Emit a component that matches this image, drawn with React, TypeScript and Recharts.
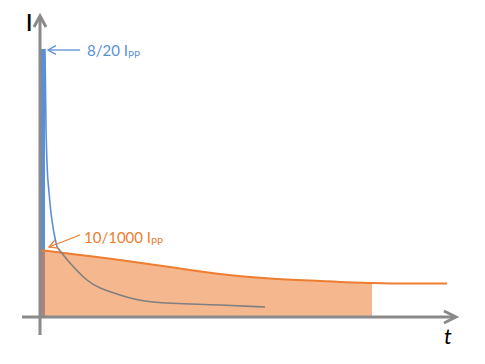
import { ComposedChart, XAxis, YAxis, Area, Line, ReferenceLine } from "recharts";

// time axis (arbitrary units, origin at the I axis) and current values
const orangeT = [0, 40, 80, 130, 180, 230, 280, 332, 370, 407];
const orangeI = [67, 62, 57, 50, 43, 38.5, 36, 34, 33.5, 33.5];
const fillEndT = 332;

const spikeT = [0, 5];
const spikeI = [268, 268];

const blueT = [5, 6, 7, 9, 11, 14, 17];
const blueI = [268, 190, 154, 125, 104, 84, 70];

const grayT = [17, 30, 47, 80, 113, 180, 225];
const grayI = [70, 54, 37, 22, 15, 12, 10];

const toRows = (ts: number[], is: number[]) => ts.map((t, k) => ({ t, I: is[k] }));

const orangeData = toRows(orangeT, orangeI);
const orangeFill = orangeData.filter((d) => d.t <= fillEndT);
const spikeData = toRows(spikeT, spikeI);
const blueData = toRows(blueT, blueI);
const grayData = toRows(grayT, grayI);

const BLUE = "#5b8fd6";
const ORANGE = "#ed7d31";
const AXIS = "#8a8a8a";
const FONT = "Lato, 'Open Sans', sans-serif";

function axisShape(dir: "up" | "right") {
  return (p: any) => {
    const { x1, y1, x2, y2 } = p;
    const head =
      dir === "up"
        ? `M${x2 - 6},${y2 + 11} L${x2},${y2} L${x2 + 6},${y2 + 11}`
        : `M${x2 - 12},${y2 - 6} L${x2},${y2} L${x2 - 12},${y2 + 6}`;
    return (
      <g>
        <line x1={x1} y1={y1} x2={x2} y2={y2} stroke={AXIS} strokeWidth={3} />
        <path d={head} fill="none" stroke={AXIS} strokeWidth={3} />
        {dir === "up" ? (
          <text x={x2 - 14} y={y2 + 15} fontFamily={FONT} fontSize={22} fontWeight={600} fill="#000">
            I
          </text>
        ) : (
          <text x={x2 - 12} y={y2 + 27} fontFamily={FONT} fontSize={22} fontStyle="italic" fill="#000">
            t
          </text>
        )}
      </g>
    );
  };
}

function noteShape(color: string, main: string, dx: number, dy: number) {
  return (p: any) => {
    const { x1, y1, x2, y2 } = p;
    const a = Math.atan2(y2 - y1, x2 - x1);
    const h = 9;
    const s = 0.5;
    const ax = x2 - h * Math.cos(a - s);
    const ay = y2 - h * Math.sin(a - s);
    const bx = x2 - h * Math.cos(a + s);
    const by = y2 - h * Math.sin(a + s);
    return (
      <g>
        <line x1={x1} y1={y1} x2={x2} y2={y2} stroke={color} strokeWidth={1.3} />
        <path d={`M${ax},${ay} L${x2},${y2} L${bx},${by}`} fill="none" stroke={color} strokeWidth={1.3} />
        <text x={x1 + dx} y={y1 + dy} fontFamily={FONT} fontSize={15} fill={color}>
          {main} I
          <tspan fontSize={10} dy={2}>
            PP
          </tspan>
        </text>
      </g>
    );
  };
}

export default function App() {
  return (
    <div style={{ position: "absolute", left: 0, top: 0, background: "#fff" }}>
      <ComposedChart width={485} height={364} margin={{ top: 0, right: 0, bottom: 0, left: 0 }}>
        <XAxis type="number" dataKey="t" hide domain={[-40, 445]} allowDataOverflow />
        <YAxis type="number" dataKey="I" hide domain={[-47, 317]} allowDataOverflow />
        <Area
          data={spikeData}
          dataKey="I"
          type="linear"
          baseValue={0}
          stroke="none"
          fill={BLUE}
          fillOpacity={1}
          dot={false}
          activeDot={false}
          isAnimationActive={false}
        />
        <Area
          data={orangeFill}
          dataKey="I"
          type="monotone"
          baseValue={0}
          stroke="none"
          fill={ORANGE}
          fillOpacity={0.55}
          dot={false}
          activeDot={false}
          isAnimationActive={false}
        />
        <Line
          data={orangeData}
          dataKey="I"
          type="monotone"
          stroke={ORANGE}
          strokeWidth={2}
          dot={false}
          activeDot={false}
          isAnimationActive={false}
        />
        <Line
          data={blueData}
          dataKey="I"
          type="monotone"
          stroke={BLUE}
          strokeWidth={1.6}
          dot={false}
          activeDot={false}
          isAnimationActive={false}
        />
        <Line
          data={grayData}
          dataKey="I"
          type="monotone"
          stroke="#7f7f7f"
          strokeWidth={1.6}
          dot={false}
          activeDot={false}
          isAnimationActive={false}
        />
        <ReferenceLine
          segment={[{ x: 0, y: -18 }, { x: 0, y: 301 }]}
          ifOverflow="visible"
          shape={axisShape("up")}
        />
        <ReferenceLine
          segment={[{ x: -18, y: 0 }, { x: 416, y: 0 }]}
          ifOverflow="visible"
          shape={axisShape("right")}
        />
        <ReferenceLine
          segment={[{ x: 40, y: 267 }, { x: 8, y: 267 }]}
          ifOverflow="visible"
          shape={noteShape(BLUE, "8/20", 7, 6)}
        />
        <ReferenceLine
          segment={[{ x: 40, y: 82 }, { x: 9, y: 70 }]}
          ifOverflow="visible"
          shape={noteShape(ORANGE, "10/1000", 4, 8)}
        />
      </ComposedChart>
    </div>
  );
}
